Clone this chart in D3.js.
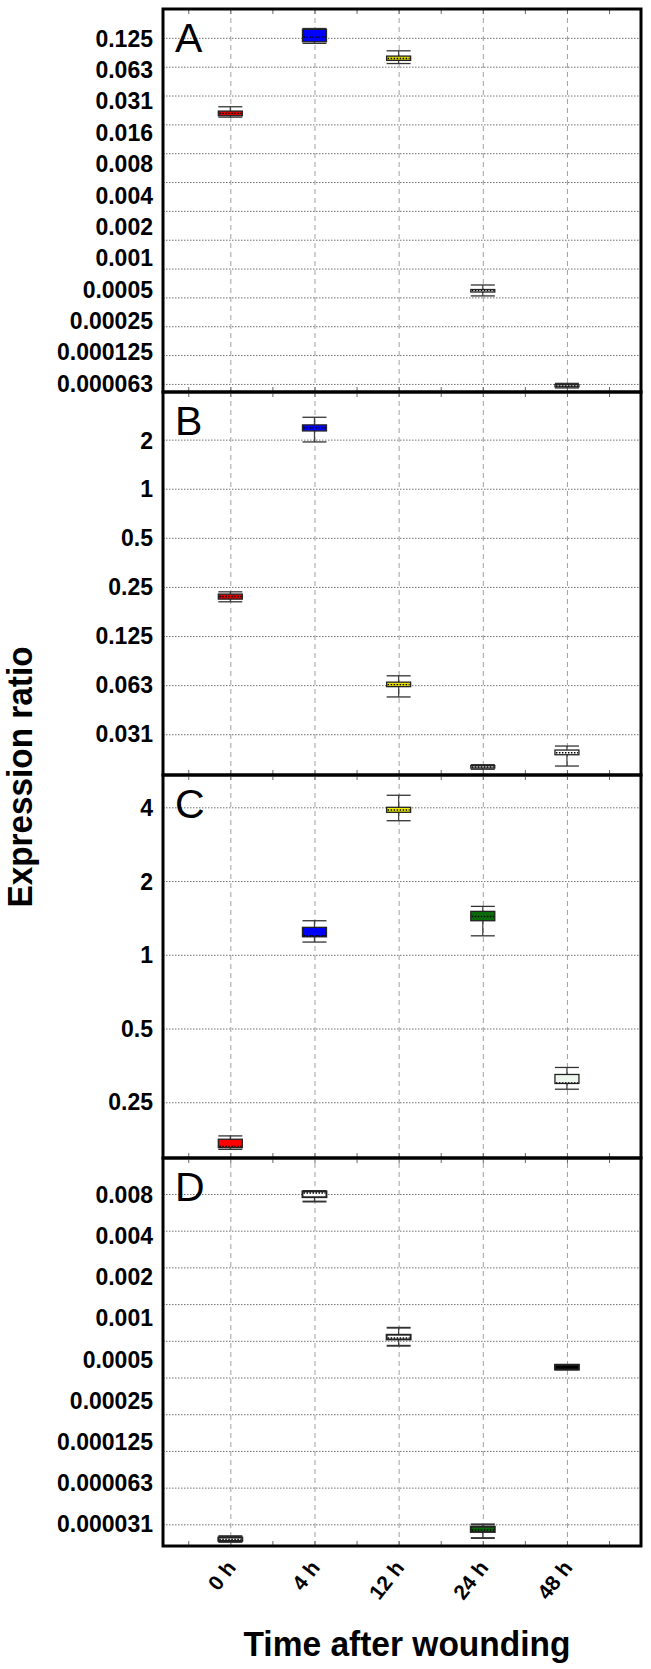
<!DOCTYPE html>
<html><head><meta charset="utf-8">
<script src="https://cdn.jsdelivr.net/npm/d3@7"></script>
<style>body{margin:0;background:#fff}text{font-family:"Liberation Sans",Arial,sans-serif}</style>
</head><body><svg id="c" width="651" height="1669"></svg>
<script>
// ---- categories ----
const times = ["0 h", "4 h", "12 h", "24 h", "48 h"];

// ---- tick labels ----
const labelsA = ["0.125","0.063","0.031","0.016","0.008","0.004","0.002","0.001","0.0005","0.00025","0.000125","0.000063"];
const labelsB = ["2","1","0.5","0.25","0.125","0.063","0.031"];
const labelsC = ["4","2","1","0.5","0.25"];
const labelsD = ["0.008","0.004","0.002","0.001","0.0005","0.00025","0.000125","0.000063","0.000031"];

// ---- box-plot values (whisker high, upper quartile, median, lower quartile, whisker low) ----
const A_hi  = [0.02385, 0.1565, 0.0915, 0.000329, 3.094e-5];
const A_q3  = [0.02149, 0.1532, 0.0806, 0.000295, 3.000e-5];
const A_med = [0.02033, 0.1271, 0.0762, 0.000287, 2.907e-5];
const A_q1  = [0.01924, 0.1138, 0.0727, 0.000278, 2.847e-5];
const A_lo  = [0.01858, 0.1095, 0.0674, 0.000253, 2.770e-5];

const B_hi  = [0.2333, 2.742, 0.0713, 0.02034, 0.02646];
const B_q3  = [0.2260, 2.462, 0.0652, 0.02006, 0.02500];
const B_med = [0.2184, 2.360, 0.0630, 0.01969, 0.02407];
const B_q1  = [0.2105, 2.261, 0.0612, 0.01938, 0.02340];
const B_lo  = [0.2027, 1.936, 0.0529, 0.01906, 0.01995];

const C_hi  = [0.1822, 1.377, 4.479, 1.576, 0.3467];
const C_q3  = [0.1766, 1.294, 4.000, 1.504, 0.3246];
const C_med = [0.1652, 1.195, 3.899, 1.434, 0.2999];
const C_q1  = [0.1632, 1.184, 3.816, 1.377, 0.2983];
const C_lo  = [0.1606, 1.127, 3.526, 1.195, 0.2826];

const D_hi  = [1.222e-5, 0.00827, 0.000625, 1.526e-5, 0.0003103];
const D_q3  = [1.189e-5, 0.00820, 0.0005476, 1.461e-5, 0.0003103];
const D_med = [1.148e-5, 0.00795, 0.0005142, 1.372e-5, 0.000297];
const D_q1  = [1.117e-5, 0.00735, 0.0005008, 1.321e-5, 0.0002838];
const D_lo  = [1.094e-5, 0.00677, 0.0004447, 1.178e-5, 0.0002838];

// ---- styles (box fills per panel) ----
const fillsA = ["#e00000", "#0000ff", "#e8e000", "#ffffff", "#f2f2f2"];
const fillsB = ["#e00000", "#0000ff", "#e8e000", "#f4f4f4", "#ffffff"];
const fillsC = ["#ff0000", "#0000ff", "#f0f000", "#0b6b0b", "#eef6ee"];
const fillsD = ["#ffffff", "#ffffff", "#ffffff", "#0b6b0b", "#000000"];

const svg = d3.select("#c");
const L = 163, R = 641;
const x = d3.scaleLinear().domain([-0.8, 4.88]).range([L, R]);
const boxW = 24;

const panels = [
  {letter:"A", top:9,    bottom:392,  dom:[2**-15.28, 2**-2.0],  grid:[-3,-15], labels:labelsA,
   hi:A_hi, q3:A_q3, med:A_med, q1:A_q1, lo:A_lo, fills:fillsA, bw:1.3},
  {letter:"B", top:392,  bottom:775,  dom:[2**-5.83, 2**1.97],   grid:[1,-5],   labels:labelsB,
   hi:B_hi, q3:B_q3, med:B_med, q1:B_q1, lo:B_lo, fills:fillsB, bw:1.3},
  {letter:"C", top:775,  bottom:1158, dom:[2**-2.756, 2**2.438], grid:[2,-2],   labels:labelsC,
   hi:C_hi, q3:C_q3, med:C_med, q1:C_q1, lo:C_lo, fills:fillsC, bw:1.3},
  {letter:"D", top:1158, bottom:1546, dom:[2**-16.59, 2**-6.02], grid:[-7,-16], labels:labelsD,
   hi:D_hi, q3:D_q3, med:D_med, q1:D_q1, lo:D_lo, fills:fillsD, bw:1.9}
];

panels.forEach((p, pi) => {
  const y = d3.scaleLog().base(2).domain(p.dom).range([p.bottom, p.top]);
  const g = svg.append("g");

  // horizontal dotted grid at powers of two
  const gridVals = d3.range(p.grid[0], p.grid[1] - 1, -1).map(e => 2 ** e);
  const hg = g.append("g").attr("transform", `translate(${L},0)`)
    .call(d3.axisLeft(y).tickValues(gridVals).tickSize(-(R - L)).tickFormat(""));
  hg.select(".domain").remove();
  hg.selectAll(".tick line").attr("stroke", "#707070").attr("stroke-width", 1).attr("stroke-dasharray", "1.5,1.5");

  // vertical dashed grid at categories
  const vg = g.append("g").attr("transform", `translate(0,${p.bottom})`)
    .call(d3.axisBottom(x).tickValues(d3.range(times.length)).tickSize(-(p.bottom - p.top)).tickFormat(""));
  vg.select(".domain").remove();
  vg.selectAll(".tick line").attr("stroke", "#a0a0a0").attr("stroke-width", 1).attr("stroke-dasharray", "5,4");

  // minor ticks on top and bottom frame
  [[d3.axisBottom, p.bottom], [d3.axisTop, p.top]].forEach(([ax, yy]) => {
    const mt = g.append("g").attr("transform", `translate(0,${yy})`)
      .call(ax(x).tickValues(d3.range(-0.5, 4.51, 0.5)).tickSize(-5).tickFormat(""));
    mt.select(".domain").remove();
    mt.selectAll(".tick line").attr("stroke", "#666").attr("stroke-width", 1);
  });

  // y tick labels (evenly placed between first and last grid line)
  const ly = d3.scalePoint().domain(p.labels).range([y(2 ** p.grid[0]) + 1, y(2 ** p.grid[1])]);
  const la = g.append("g").attr("transform", `translate(${L},0)`)
    .call(d3.axisLeft(ly).tickSize(0).tickPadding(10));
  la.select(".domain").remove();
  la.selectAll("text").attr("font-size", 23).attr("font-weight", "bold").attr("fill", "#000")
    .attr("font-family", '"Liberation Sans", Arial, sans-serif');

  // boxes
  const stats = times.map((t, i) => ({i, hi:p.hi[i], q3:p.q3[i], med:p.med[i], q1:p.q1[i], lo:p.lo[i], fill:p.fills[i]}));
  const bg = g.selectAll("g.box").data(stats).join("g").attr("class", "box")
    .attr("transform", d => `translate(${x(d.i)},0)`);
  bg.append("line").attr("x1", 0).attr("x2", 0)
    .attr("y1", d => y(d.hi)).attr("y2", d => y(d.lo))
    .attr("stroke", "#444").attr("stroke-width", 1.3);
  bg.append("line").attr("x1", -boxW / 2).attr("x2", boxW / 2)
    .attr("y1", d => y(d.hi)).attr("y2", d => y(d.hi))
    .attr("stroke", "#333").attr("stroke-width", p.bw);
  bg.append("line").attr("x1", -boxW / 2).attr("x2", boxW / 2)
    .attr("y1", d => y(d.lo)).attr("y2", d => y(d.lo))
    .attr("stroke", "#333").attr("stroke-width", p.bw);
  bg.append("rect").attr("x", -boxW / 2).attr("width", boxW)
    .attr("y", d => y(d.q3)).attr("height", d => Math.max(1, y(d.q1) - y(d.q3)))
    .attr("fill", d => d.fill).attr("stroke", "#222").attr("stroke-width", p.bw);
  bg.append("line").attr("x1", -boxW / 2 + 1).attr("x2", boxW / 2 - 1)
    .attr("y1", d => y(d.med)).attr("y2", d => y(d.med))
    .attr("stroke", "#000").attr("stroke-width", 1.4).attr("stroke-dasharray", "1.5,1.5");

  // frame
  g.append("rect").attr("x", L).attr("y", p.top).attr("width", R - L).attr("height", p.bottom - p.top)
    .attr("fill", "none").attr("stroke", "#000").attr("stroke-width", 3);

  // panel letter
  g.append("text").attr("x", 175).attr("y", p.top + 43).attr("font-size", 41)
    .attr("fill", "#000").text(p.letter);

  // x labels under last panel
  if (pi === panels.length - 1) {
    const xa = g.append("g").attr("transform", `translate(0,${p.bottom})`)
      .call(d3.axisBottom(x).tickValues(d3.range(times.length)).tickSize(0).tickFormat(i => times[i]));
    xa.select(".domain").remove();
    xa.selectAll("text").attr("x", 0).attr("y", 0).attr("dy", 0)
      .attr("text-anchor", "end").attr("transform", "translate(6,22) rotate(-52)")
      .attr("font-size", 21).attr("font-weight", "bold").attr("fill", "#000")
      .attr("font-family", '"Liberation Sans", Arial, sans-serif');
  }
});

// axis titles
svg.append("text").attr("transform", "translate(32,777) rotate(-90)")
  .attr("text-anchor", "middle").attr("font-size", 35).attr("font-weight", "bold")
  .attr("textLength", 261).attr("lengthAdjust", "spacingAndGlyphs")
  .text("Expression ratio");
svg.append("text").attr("x", 407).attr("y", 1656)
  .attr("text-anchor", "middle").attr("font-size", 35).attr("font-weight", "bold")
  .attr("textLength", 327).attr("lengthAdjust", "spacingAndGlyphs")
  .text("Time after wounding");
</script></body></html>
